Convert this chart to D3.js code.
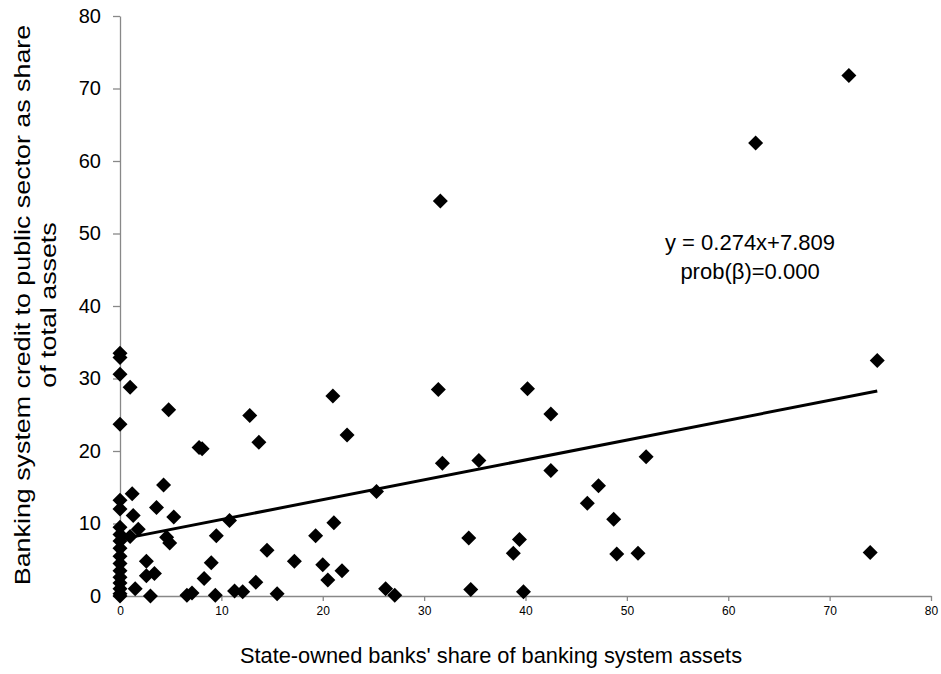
<!DOCTYPE html>
<html>
<head>
<meta charset="utf-8">
<script src="https://cdn.jsdelivr.net/npm/d3@7"></script>
<style>
  html, body { margin: 0; padding: 0; background: #fff; }
  svg { display: block; }
  text { font-family: 'Liberation Sans', Arial, sans-serif; fill: #000; }
</style>
</head>
<body>
<svg id="chart" width="941" height="674"></svg>
<script>
// State-owned banks' share of banking system assets (x)
const stateShare = [
  0, 0, 0, 0, 0, 0, 0, 0, 0, 0, 0, 0, 0, 0, 0, 0, 0, 0,
  1.0, 4.8, 7.8, 8.1, 1.2, 1.3, 4.3, 3.6, 5.3, 1.8, 1.0, 4.6, 4.9,
  2.6, 2.6, 3.4, 1.5, 3.0, 6.6, 7.1, 8.3, 9.0, 9.5, 10.8,
  12.8, 13.7, 21.0, 22.4, 25.3, 19.3, 21.1, 14.5, 17.2, 20.0, 21.9, 20.5,
  13.4, 9.4, 11.3, 12.1, 15.5, 26.2, 27.1,
  31.4, 40.2, 42.5, 31.8, 35.4, 42.5, 34.4, 39.4, 38.8, 34.6, 39.8,
  51.9, 47.2, 46.1, 48.7, 49.0, 51.1,
  31.6, 71.9, 62.7, 74.7, 74.0
];
// Banking system credit to public sector as share of total assets (y)
const publicCredit = [
  33.5, 32.9, 30.6, 23.7, 13.2, 12.0, 9.5, 8.5, 7.6, 6.6, 5.5, 4.5, 3.5, 2.6, 1.8, 1.0, 0.3, 0.0,
  28.8, 25.7, 20.5, 20.3, 14.1, 11.1, 15.3, 12.2, 10.9, 9.2, 8.2, 8.1, 7.3,
  4.8, 2.8, 3.1, 1.0, 0.0, 0.1, 0.4, 2.4, 4.6, 8.3, 10.4,
  24.9, 21.2, 27.6, 22.2, 14.4, 8.3, 10.1, 6.3, 4.8, 4.3, 3.5, 2.2,
  1.9, 0.1, 0.7, 0.6, 0.3, 1.0, 0.1,
  28.5, 28.6, 25.1, 18.3, 18.7, 17.3, 8.0, 7.8, 5.9, 0.9, 0.6,
  19.2, 15.2, 12.8, 10.6, 5.8, 5.9,
  54.5, 71.8, 62.5, 32.5, 6.0
];
const xTicks = [0, 10, 20, 30, 40, 50, 60, 70, 80];
const yTicks = [0, 10, 20, 30, 40, 50, 60, 70, 80];
const trendSlope = 0.274;
const trendIntercept = 7.809;
const equationLines = ["y = 0.274x+7.809", "prob(\u03B2)=0.000"];
const xTitle = "State-owned banks' share of banking system assets";
const yTitleLines = ["Banking system credit to public sector as share", "of total assets"];

const points = stateShare.map((x, i) => ({ x, y: publicCredit[i] }));

const svg = d3.select("#chart");
const x = d3.scaleLinear().domain([0, 80]).range([120, 931]);
const y = d3.scaleLinear().domain([0, 80]).range([596, 16]);
const axisColor = "#888888";

// X axis
const gx = svg.append("g")
  .attr("transform", `translate(0,${y(0)})`)
  .call(d3.axisBottom(x).tickValues(xTicks).tickSize(5).tickSizeOuter(0).tickPadding(5).tickFormat(d3.format("d")));
gx.select(".domain").attr("stroke", axisColor).attr("stroke-width", 1.3);
gx.selectAll(".tick line").attr("stroke", axisColor).attr("stroke-width", 1.3);
gx.selectAll(".tick text").attr("font-size", 12)
  .attr("font-family", "'Liberation Sans Narrow', 'Liberation Sans', Arial, sans-serif");

// Y axis
const gy = svg.append("g")
  .attr("transform", `translate(${x(0)},0)`)
  .call(d3.axisLeft(y).tickValues(yTicks).tickSize(7).tickSizeOuter(0).tickPadding(12).tickFormat(d3.format("d")));
gy.select(".domain").attr("stroke", axisColor).attr("stroke-width", 1.3);
gy.selectAll(".tick line").attr("stroke", axisColor).attr("stroke-width", 1.3);
gy.selectAll(".tick text").attr("font-size", 20);

// Trend line
const xMin = d3.min(stateShare), xMax = d3.max(stateShare);
svg.append("line")
  .attr("x1", x(xMin)).attr("y1", y(trendIntercept + trendSlope * xMin))
  .attr("x2", x(xMax)).attr("y2", y(trendIntercept + trendSlope * xMax))
  .attr("stroke", "#000").attr("stroke-width", 3);

// Markers (diamonds)
const r = 7.5;
svg.append("g").selectAll("path")
  .data(points)
  .join("path")
  .attr("transform", d => `translate(${x(d.x)},${y(d.y)})`)
  .attr("d", `M0,${-r}L${r},0L0,${r}L${-r},0Z`)
  .attr("fill", "#000");

// Equation annotation
svg.append("text")
  .attr("x", 750).attr("y", 250)
  .attr("text-anchor", "middle").attr("font-size", 22)
  .selectAll("tspan").data(equationLines).join("tspan")
  .attr("x", 750).attr("dy", (d, i) => i === 0 ? 0 : 29)
  .text(d => d);

// X title
svg.append("text")
  .attr("x", 491).attr("y", 663)
  .attr("text-anchor", "middle").attr("font-size", 21.8)
  .text(xTitle);

// Y title (slightly elongated along its length, as in the reference)
const yt = svg.append("text")
  .attr("transform", "translate(0,305) rotate(-90) scale(1.22,1)")
  .attr("text-anchor", "middle").attr("font-size", 22);
yt.selectAll("tspan").data(yTitleLines).join("tspan")
  .attr("x", 0).attr("y", (d, i) => 30 + i * 26)
  .text(d => d);
</script>
</body>
</html>
